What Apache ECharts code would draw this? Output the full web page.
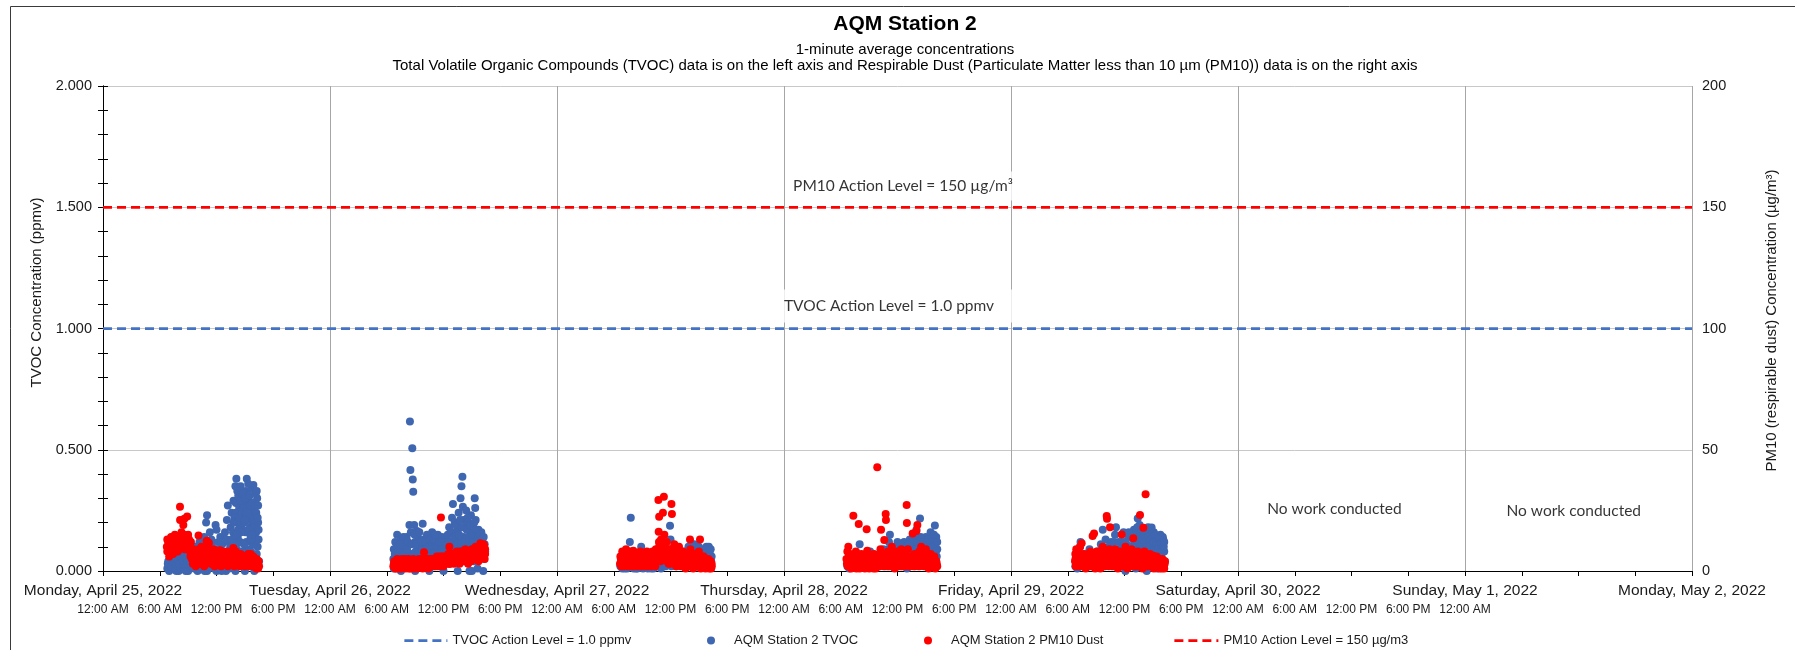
<!DOCTYPE html>
<html>
<head>
<meta charset="utf-8">
<title>AQM Station 2</title>
<script src="https://cdn.jsdelivr.net/npm/echarts@6.0.0/dist/echarts.min.js"></script>
<style>
  html, body { margin: 0; padding: 0; background: #fff; }
  #chart { width: 1795px; height: 650px; }
</style>
</head>
<body>
<div id="chart"></div>
<script>
// x axis = hours since Monday, April 25, 2022 12:00 AM
// each day array holds [hour of day, value]
const dayLabels = ['Monday, April 25, 2022', 'Tuesday, April 26, 2022', 'Wednesday, April 27, 2022',
  'Thursday, April 28, 2022', 'Friday, April 29, 2022', 'Saturday, April 30, 2022',
  'Sunday, May 1, 2022', 'Monday, May 2, 2022'];
const timeLabels = ['12:00 AM', '6:00 AM', '12:00 PM', '6:00 PM'];
const lastTimeLabel = 144; // time labels stop at Sunday 12:00 AM

const tvocActionLevel = 1.0;   // ppmv
const pm10ActionLevel = 150;   // ug/m3

// TVOC (ppmv), left axis
const tvocMon = [[6.8,0.01],[6.9,0.04],[7.1,0.02],[7.3,0.06],[7.4,0.01],[7.6,0.03],[7.8,0.07],[7.9,0.02],[8.1,0.05],[8.3,0.01],
  [8.4,0.08],[8.6,0.03],[8.8,0.06],[8.9,0.01],[9.1,0.04],[9.3,0.09],[9.4,0.02],[9.6,0.06],[9.8,0.1],[9.9,0.03],[10.1,0.07],
  [10.2,0.12],[10.4,0.02],[10.5,0.09],[10.7,0.14],[10.8,0.05],[10.9,0.2],[11.0,0.23],[11.1,0.1],[11.2,0.02],[11.3,0.16],
  [11.5,0.07],[11.6,0.12],[11.8,0.03],[11.9,0.19],[12.0,0.17],[12.1,0.09],[12.3,0.04],[12.4,0.14],[12.6,0.11],[12.7,0.02],
  [12.9,0.16],[13.0,0.07],[13.1,0.21],[13.2,0.27],[13.3,0.12],[13.4,0.03],[13.5,0.18],[13.6,0.24],[13.7,0.09],[13.8,0.29],
  [13.9,0.15],[14.0,0.35],[14.1,0.38],[14.15,0.2],[14.2,0.05],[14.3,0.31],[14.4,0.26],[14.5,0.12],[14.6,0.22],[14.7,0.3],
  [14.8,0.17],[14.9,0.02],[15.0,0.27],[15.1,0.33],[15.2,0.38],[15.25,0.21],[15.3,0.09],[15.4,0.29],[15.5,0.24],[15.6,0.14],
  [15.7,0.34],[15.8,0.19],[15.9,0.355],[15.95,0.05],[16.0,0.28],[16.1,0.23],[16.2,0.16],[16.3,0.3],[16.35,0.1],[16.4,0.2],
  [16.5,0.04],[14.35,0.12],[14.75,0.08],[15.05,0.16],[15.45,0.05],[15.85,0.11],[16.25,0.07],[13.85,0.06],[14.55,0.35],
  [15.35,0.36],[16.15,0.32],[13.05,0.01],[7.0,0.0],[8.0,0.0],[9.0,0.0],[10.0,0.0],[11.0,0.0],[12.0,0.0],[13.0,0.0],
  [14.0,0.0],[15.0,0.0],[16.0,0.0],
  [6.85,0.03],[7.05,0.05],[7.25,0.02],[7.45,0.04],[7.65,0.05],[7.85,0.01],[8.05,0.03],[8.25,0.06],[8.45,0.04],[8.65,0.01],
  [8.85,0.05],[9.05,0.07],[9.25,0.03],[9.45,0.05],[9.65,0.01],[9.85,0.06],[10.05,0.02],[10.25,0.05],[10.45,0.08],[10.65,0.03],
  [10.85,0.11],[11.05,0.06],[11.25,0.04],[11.45,0.13],[11.65,0.05],[11.85,0.09],[12.05,0.03],[12.25,0.12],[12.45,0.06],
  [12.65,0.08],[12.85,0.04],[13.05,0.13],[13.25,0.07],[13.45,0.1],[13.65,0.05],[13.75,0.16],[13.95,0.11],[14.05,0.24],
  [14.25,0.14],[14.45,0.19],[14.65,0.28],[14.85,0.23],[15.15,0.12],[15.25,0.3],[15.55,0.18],[15.75,0.22],[15.95,0.25],
  [16.05,0.14],[16.45,0.13],[14.15,0.09],[14.95,0.2],[15.65,0.08],[16.3,0.02],[13.35,0.01],[12.55,0.0],[11.75,0.01],
  [10.75,0.0],[9.75,0.01],[8.75,0.0],[7.75,0.0],
  [13.9,0.22],[14.05,0.28],[14.2,0.33],[14.3,0.17],[14.4,0.22],[14.5,0.29],[14.6,0.16],[14.7,0.25],[14.8,0.32],[14.9,0.26],
  [15.0,0.21],[15.05,0.3],[15.15,0.26],[15.3,0.24],[15.4,0.17],[15.5,0.31],[15.6,0.27],[15.7,0.13],[15.8,0.28],[15.9,0.2],
  [16.0,0.18],[16.1,0.27],[16.2,0.24],[16.25,0.33],[16.4,0.27],[16.45,0.17],[13.6,0.13],[13.8,0.2],[14.1,0.15],[14.9,0.11],
  [15.75,0.15],[16.35,0.22]];
const tvocTue = [[6.7,0.05],[6.75,0.09],[6.8,0.02],[6.9,0.12],[7.0,0.06],[7.1,0.15],[7.2,0.03],[7.3,0.1],[7.4,0.07],[7.5,0.13],
  [7.6,0.04],[7.7,0.09],[7.8,0.12],[7.9,0.02],[8.0,0.08],[8.1,0.14],[8.2,0.05],[8.3,0.11],[8.4,0.19],[8.45,0.617],[8.5,0.417],
  [8.55,0.16],[8.7,0.506],[8.75,0.377],[8.8,0.327],[8.6,0.07],[8.9,0.19],[9.0,0.12],[9.1,0.04],[9.2,0.165],[9.3,0.09],
  [9.4,0.13],[9.5,0.02],[9.6,0.1],[9.7,0.06],[9.8,0.195],[9.9,0.13],[10.0,0.08],[10.1,0.03],[10.2,0.11],[10.3,0.07],
  [10.4,0.14],[10.5,0.05],[10.6,0.1],[10.7,0.02],[10.8,0.16],[10.9,0.08],[11.0,0.12],[11.1,0.04],[11.2,0.11],[11.3,0.07],
  [11.4,0.15],[11.5,0.03],[11.6,0.09],[11.7,0.13],[11.8,0.06],[11.9,0.1],[12.0,0.128],[12.1,0.04],[12.2,0.08],[12.3,0.14],
  [12.4,0.06],[12.5,0.1],[12.6,0.18],[12.7,0.03],[12.8,0.12],[12.9,0.22],[13.0,0.276],[13.05,0.16],[13.1,0.08],[13.2,0.2],
  [13.3,0.13],[13.4,0.05],[13.5,0.17],[13.6,0.24],[13.7,0.1],[13.8,0.3],[13.9,0.35],[14.0,0.389],[14.05,0.265],[14.1,0.21],
  [14.15,0.14],[14.2,0.06],[14.3,0.18],[14.4,0.25],[14.5,0.12],[14.6,0.2],[14.7,0.08],[14.8,0.16],[14.9,0.23],[15.0,0.11],
  [15.1,0.19],[15.2,0.04],[15.3,0.3],[15.35,0.26],[15.4,0.21],[15.5,0.14],[15.6,0.09],[15.7,0.17],[15.8,0.12],[15.9,0.06],
  [16.0,0.16],[16.1,0.13],[16.2,0.1],[16.3,0.05],[16.4,0.08],[7.5,0.0],[9.0,0.0],[10.5,0.0],[12.0,0.0],[13.5,0.0],[15.0,0.0],
  [16.2,0.0],[14.75,0.0],[15.6,0.01],
  [6.75,0.01],[6.85,0.07],[6.95,0.03],[7.05,0.1],[7.15,0.05],[7.25,0.08],[7.35,0.01],[7.45,0.11],[7.55,0.06],[7.65,0.02],
  [7.75,0.14],[7.85,0.07],[7.95,0.1],[8.05,0.04],[8.15,0.09],[8.25,0.12],[8.35,0.02],[8.65,0.11],[8.85,0.05],[8.95,0.15],
  [9.05,0.08],[9.15,0.11],[9.25,0.03],[9.35,0.07],[9.45,0.16],[9.55,0.06],[9.65,0.12],[9.75,0.09],[9.85,0.02],[9.95,0.06],
  [10.05,0.12],[10.15,0.09],[10.25,0.15],[10.35,0.02],[10.45,0.1],[10.55,0.13],[10.65,0.06],[10.75,0.09],[10.85,0.04],
  [10.95,0.13],[11.05,0.08],[11.15,0.15],[11.25,0.05],[11.35,0.1],[11.45,0.07],[11.55,0.12],[11.65,0.05],[11.75,0.09],
  [11.85,0.14],[11.95,0.03],[12.05,0.09],[12.15,0.12],[12.25,0.05],[12.35,0.11],[12.45,0.15],[12.55,0.08],[12.65,0.12],
  [12.75,0.06],[12.85,0.16],[12.95,0.1],[13.15,0.14],[13.25,0.06],[13.35,0.19],[13.45,0.11],[13.55,0.08],[13.65,0.15],
  [13.75,0.21],[13.85,0.12],[13.95,0.18],[14.25,0.12],[14.35,0.08],[14.45,0.17],[14.55,0.22],[14.65,0.1],[14.75,0.14],
  [14.85,0.19],[14.95,0.07],[15.05,0.15],[15.15,0.12],[15.25,0.2],[15.45,0.17],[15.55,0.11],[15.65,0.14],[15.75,0.08],
  [15.85,0.15],[15.95,0.1],[16.05,0.12],[16.15,0.08],[16.25,0.14],[16.35,0.11]];
const tvocWed = [[6.7,0.02],[6.8,0.05],[6.9,0.01],[7.0,0.03],[7.1,0.06],[7.2,0.02],[7.3,0.04],[7.4,0.01],[7.5,0.07],[7.6,0.03],
  [7.7,0.12],[7.8,0.22],[7.9,0.02],[8.0,0.05],[8.1,0.01],[8.2,0.04],[8.3,0.02],[8.4,0.06],[8.5,0.01],[8.6,0.03],[8.7,0.05],
  [8.8,0.02],[8.9,0.1],[9.0,0.04],[9.1,0.01],[9.2,0.06],[9.3,0.02],[9.4,0.03],[9.5,0.05],[9.6,0.01],[9.7,0.04],[9.8,0.02],
  [9.9,0.06],[10.0,0.03],[10.2,0.01],[10.4,0.05],[10.6,0.02],[10.8,0.04],[11.0,0.01],[11.2,0.06],[11.4,0.03],[11.6,0.08],
  [11.8,0.05],[11.95,0.187],[12.0,0.13],[12.1,0.02],[12.3,0.07],[12.5,0.04],[12.7,0.09],[12.9,0.03],[13.1,0.06],[13.3,0.02],
  [13.5,0.08],[13.7,0.05],[13.9,0.1],[14.1,0.03],[14.3,0.07],[14.5,0.11],[14.7,0.04],[14.9,0.08],[15.1,0.02],[15.3,0.06],
  [15.5,0.09],[15.7,0.04],[15.8,0.1],[15.9,0.07],[16.0,0.03],[16.1,0.08],[16.2,0.05],[16.3,0.02],[16.35,0.06],
  [6.75,0.03],[6.95,0.04],[7.15,0.01],[7.35,0.05],[7.55,0.02],[7.75,0.06],[7.95,0.03],[8.15,0.05],[8.35,0.01],[8.55,0.04],
  [8.75,0.06],[8.95,0.02],[9.15,0.04],[9.35,0.06],[9.55,0.02],[9.75,0.05],[9.95,0.01],[10.1,0.04],[10.3,0.06],[10.5,0.03],
  [10.7,0.05],[10.9,0.02],[11.1,0.04],[11.3,0.07],[11.5,0.02],[11.7,0.05],[11.9,0.08],[12.2,0.04],[12.4,0.06],[12.6,0.02],
  [12.8,0.06],[13.0,0.04],[13.2,0.07],[13.4,0.05],[13.6,0.03],[13.8,0.07],[14.0,0.05],[14.2,0.09],[14.4,0.04],[14.6,0.08],
  [14.8,0.06],[15.0,0.1],[15.2,0.05],[15.4,0.08],[15.6,0.06],[15.75,0.09],[15.95,0.05],[16.05,0.1],[16.15,0.07],[16.25,0.09],
  [16.3,0.04]];
const tvocThu = [[6.7,0.02],[6.8,0.05],[6.9,0.01],[7.0,0.03],[7.2,0.06],[7.4,0.02],[7.6,0.04],[7.8,0.07],[8.0,0.11],[8.1,0.03],
  [8.3,0.05],[8.5,0.02],[8.7,0.06],[8.9,0.03],[9.1,0.08],[9.3,0.04],[9.5,0.02],[9.7,0.06],[9.9,0.03],[10.1,0.07],[10.3,0.04],
  [10.5,0.09],[10.7,0.02],[10.9,0.06],[11.1,0.12],[11.2,0.15],[11.3,0.05],[11.5,0.08],[11.7,0.03],[11.9,0.07],[12.0,0.12],
  [12.1,0.1],[12.3,0.04],[12.5,0.08],[12.7,0.12],[12.9,0.05],[13.1,0.09],[13.3,0.13],[13.5,0.06],[13.7,0.1],[13.9,0.14],
  [14.0,0.17],[14.2,0.08],[14.38,0.217],[14.5,0.12],[14.7,0.05],[14.8,0.1],[15.0,0.14],[15.2,0.07],[15.4,0.12],[15.5,0.16],
  [15.6,0.09],[15.8,0.135],[15.95,0.188],[16.0,0.11],[16.1,0.14],[16.15,0.06],[16.2,0.09],[15.3,0.02],[14.6,0.03],[13.0,0.01],
  [6.75,0.04],[6.95,0.02],[7.1,0.05],[7.3,0.03],[7.5,0.05],[7.7,0.02],[7.9,0.04],[8.2,0.06],[8.4,0.03],[8.6,0.05],[8.8,0.02],
  [9.0,0.06],[9.2,0.03],[9.4,0.07],[9.6,0.04],[9.8,0.06],[10.0,0.03],[10.2,0.06],[10.4,0.05],[10.6,0.07],[10.8,0.04],
  [11.0,0.09],[11.4,0.1],[11.6,0.06],[11.8,0.09],[12.2,0.07],[12.4,0.11],[12.6,0.06],[12.8,0.1],[13.0,0.07],[13.2,0.11],
  [13.4,0.08],[13.6,0.12],[13.8,0.07],[14.1,0.12],[14.3,0.1],[14.45,0.14],[14.6,0.09],[14.75,0.12],[14.9,0.08],[15.1,0.11],
  [15.25,0.13],[15.35,0.09],[15.45,0.06],[15.65,0.12],[15.75,0.1],[15.85,0.15],[16.05,0.08],[16.2,0.12]];
const tvocFri = [[6.8,0.02],[6.9,0.05],[7.0,0.01],[7.1,0.08],[7.2,0.03],[7.3,0.1],[7.35,0.12],[7.5,0.04],[7.7,0.07],[7.9,0.02],
  [8.1,0.05],[8.3,0.09],[8.5,0.03],[8.7,0.06],[8.9,0.02],[9.1,0.08],[9.3,0.04],[9.5,0.11],[9.7,0.17],[9.8,0.06],[10.0,0.13],
  [10.2,0.03],[10.4,0.08],[10.6,0.12],[10.8,0.05],[11.0,0.15],[11.1,0.18],[11.3,0.09],[11.5,0.04],[11.7,0.12],[11.9,0.16],
  [12.0,0.07],[12.2,0.11],[12.4,0.14],[12.5,0.03],[12.7,0.09],[12.9,0.13],[13.0,0.17],[13.1,0.06],[13.3,0.15],[13.4,0.217],
  [13.5,0.11],[13.6,0.19],[13.7,0.08],[13.8,0.14],[13.9,0.17],[14.0,0.04],[14.1,0.12],[14.2,0.16],[14.3,0.09],[14.4,0.13],
  [14.5,0.18],[14.6,0.06],[14.7,0.15],[14.8,0.1],[14.87,0.179],[14.95,0.13],[15.0,0.05],[15.1,0.16],[15.2,0.11],[15.3,0.14],
  [15.4,0.08],[15.5,0.12],[15.6,0.125],[15.7,0.1],[15.8,0.15],[15.9,0.06],[16.0,0.11],[16.1,0.13],[16.2,0.08],[16.25,0.04],
  [12.1,0.0],[13.2,0.01],[14.35,0.0],[15.45,0.01],
  [6.85,0.04],[6.95,0.07],[7.05,0.03],[7.15,0.05],[7.25,0.06],[7.45,0.02],[7.6,0.05],[7.8,0.04],[8.0,0.06],[8.2,0.03],
  [8.4,0.05],[8.6,0.07],[8.8,0.04],[9.0,0.06],[9.2,0.05],[9.4,0.07],[9.6,0.09],[9.9,0.08],[10.1,0.06],[10.3,0.1],[10.5,0.07],
  [10.7,0.09],[10.9,0.12],[11.2,0.07],[11.4,0.12],[11.6,0.08],[11.8,0.1],[12.05,0.12],[12.3,0.09],[12.45,0.16],[12.6,0.1],
  [12.8,0.14],[12.95,0.08],[13.15,0.12],[13.25,0.09],[13.35,0.18],[13.55,0.14],[13.65,0.1],[13.75,0.16],[13.85,0.11],
  [13.95,0.13],[14.05,0.15],[14.15,0.09],[14.25,0.12],[14.45,0.1],[14.55,0.14],[14.65,0.11],[14.75,0.13],[14.85,0.07],
  [15.05,0.12],[15.15,0.09],[15.25,0.15],[15.35,0.11],[15.55,0.09],[15.65,0.14],[15.75,0.07],[15.85,0.12],[15.95,0.09],
  [16.05,0.14],[16.15,0.1],[16.2,0.12]];

// PM10 dust (ug/m3), right axis
const pm10Mon = [[6.75,10],[6.8,8],[6.9,12],[7.0,6],[7.08,11.4],[7.2,14],[7.3,9],[7.4,7],[7.5,12],[7.6,15],[7.7,10],[7.8,13],
  [7.9,8],[8.0,14],[8.14,26.5],[8.15,21],[8.2,11],[8.3,16],[8.49,19],[8.5,12],[8.6,21.5],[8.7,14],[8.8,10],[8.9,22.5],[9.0,15],
  [9.1,13],[9.2,8],[9.3,12],[9.4,5],[9.5,3],[9.6,9],[9.7,6],[9.8,2],[9.9,8],[10.0,4],[10.1,14.6],[10.2,7],[10.3,3],[10.4,10],
  [10.5,5],[10.6,8],[10.7,2],[10.96,12.5],[10.9,6],[11.0,10],[11.1,4],[11.2,11.5],[11.3,7],[11.4,3],[11.5,8],[11.6,5],[11.7,9],
  [11.8,2],[11.9,6],[12.0,4],[12.1,8],[12.2,3],[12.37,8.6],[12.4,5],[12.5,2],[12.6,6],[12.7,4],[12.8,7],[12.9,3],[13.0,5],
  [13.1,8],[13.2,2],[13.3,6],[13.4,4],[13.5,7],[13.6,3],[13.78,9.5],[13.8,5],[13.9,2],[14.0,6],[14.1,4],[14.2,7],[14.3,3],
  [14.4,5],[14.5,2],[14.6,6],[14.7,4],[14.8,3],[14.9,5],[15.0,2],[15.1,4],[15.2,6],[15.3,3],[15.4,5],[15.5,2],[15.6,7],[15.7,4],
  [15.8,3],[15.9,6],[16.0,2],[16.1,4],[16.2,1],[16.3,3],[16.4,1],[16.5,2],
  [6.8,13],[6.95,9],[7.15,12],[7.35,14],[7.45,10],[7.65,8],[7.75,13],[7.95,11],[8.05,9],[8.25,13],[8.35,10],[8.55,15],[8.65,9],
  [8.75,12],[8.95,11],[9.05,9],[9.15,11],[9.25,6],[9.35,9],[9.45,7],[9.55,6],[9.65,4],[9.75,8],[9.85,5],[9.95,3],[10.05,6],
  [10.15,9],[10.25,5],[10.35,8],[10.45,3],[10.55,7],[10.65,5],[10.75,9],[10.85,4],[11.05,7],[11.15,5],[11.25,9],[11.35,5],
  [11.45,6],[11.55,3],[11.65,7],[11.75,5],[11.85,8],[11.95,4],[12.05,6],[12.15,5],[12.25,7],[12.35,4],[12.45,3],[12.55,5],
  [12.65,8],[12.75,3],[12.85,5],[12.95,6],[13.05,3],[13.15,5],[13.25,7],[13.35,4],[13.45,6],[13.55,5],[13.65,7],[13.75,3],
  [13.85,6],[13.95,4],[14.05,8],[14.15,5],[14.25,3],[14.35,6],[14.45,4],[14.55,7],[14.65,3],[14.75,6],[14.85,5],[14.95,3],
  [15.05,6],[15.15,3],[15.25,4],[15.35,7],[15.45,3],[15.55,5],[15.65,4],[15.75,6],[15.85,2],[15.95,4],[16.05,5],[16.15,3],
  [16.25,5],[16.35,2],[16.45,4]];
const pm10Tue = [[6.7,2],[6.8,4],[6.9,1],[7.0,3],[7.1,5],[7.2,2],[7.3,4],[7.4,1],[7.5,3],[7.6,5],[7.7,2],[7.8,4],[7.9,3],[8.0,1],
  [8.1,4],[8.2,2],[8.3,5],[8.4,3],[8.5,1],[8.6,4],[8.7,2],[8.8,5],[8.9,3],[9.0,2],[9.1,4],[9.2,1],[9.3,3],[9.4,5],[9.5,2],[9.6,4],
  [9.7,3],[9.8,1],[9.94,7.7],[10.0,4],[10.1,2],[10.2,5],[10.3,3],[10.4,1],[10.5,4],[10.6,2],[10.7,5],[10.8,3],[10.9,4],[11.0,2],
  [11.1,5],[11.2,3],[11.3,6],[11.4,2],[11.5,4],[11.6,5],[11.73,22.1],[11.75,3],[11.8,6],[11.9,4],[12.0,2],[12.1,5],[12.2,3],
  [12.3,6],[12.4,4],[12.5,7],[12.62,10],[12.65,3],[12.7,5],[12.8,6],[12.9,4],[13.0,7],[13.1,3],[13.2,6],[13.3,5],[13.4,8],
  [13.5,4],[13.6,6],[13.7,3],[13.8,7],[13.9,5],[14.0,8],[14.1,4],[14.2,6],[14.3,9],[14.4,5],[14.5,7],[14.6,3],[14.7,8],[14.8,6],
  [14.9,4],[15.0,9],[15.1,7],[15.2,5],[15.3,8],[15.4,10],[15.5,6],[15.6,8],[15.7,4],[15.8,9],[15.9,11.4],[15.95,7],[16.0,9.4],
  [16.1,6],[16.2,8],[16.3,10],[16.35,5],[16.4,7],
  [6.75,3],[6.85,2],[6.95,4],[7.05,1],[7.15,3],[7.25,4],[7.35,2],[7.45,3],[7.55,1],[7.65,4],[7.75,3],[7.85,2],[7.95,5],[8.05,3],
  [8.15,2],[8.25,4],[8.35,1],[8.45,4],[8.55,3],[8.65,2],[8.75,4],[8.85,1],[8.95,4],[9.05,3],[9.15,2],[9.25,4],[9.35,2],[9.45,3],
  [9.55,4],[9.65,2],[9.75,5],[9.85,3],[9.95,2],[10.05,5],[10.15,3],[10.25,4],[10.35,2],[10.45,5],[10.55,3],[10.65,4],[10.75,2],
  [10.85,5],[10.95,3],[11.05,4],[11.15,2],[11.25,5],[11.35,4],[11.45,3],[11.55,6],[11.65,2],[11.85,4],[11.95,6],[12.05,4],
  [12.15,3],[12.25,5],[12.35,4],[12.45,6],[12.55,3],[12.75,7],[12.85,4],[12.95,6],[13.05,5],[13.15,7],[13.25,4],[13.35,6],
  [13.45,5],[13.55,7],[13.65,5],[13.75,8],[13.85,4],[13.95,7],[14.05,6],[14.15,8],[14.25,5],[14.35,7],[14.45,6],[14.55,8],
  [14.65,6],[14.75,5],[14.85,8],[14.95,7],[15.05,6],[15.15,9],[15.25,7],[15.35,6],[15.45,9],[15.55,7],[15.65,10],[15.75,8],
  [15.85,6],[16.05,10],[16.15,8],[16.25,11],[16.3,7],[16.4,9]];
const pm10Wed = [[6.66,3],[6.7,6],[6.8,2],[6.9,8],[7.0,4],[7.1,7],[7.2,3],[7.3,9],[7.4,5],[7.5,2],[7.6,7],[7.7,4],[7.8,6],[7.9,3],
  [8.07,8.4],[8.1,5],[8.2,2],[8.3,7],[8.4,4],[8.5,6],[8.6,3],[8.7,5],[8.8,8],[8.9,2],[9.0,5],[9.1,7.5],[9.2,3],[9.3,6],[9.4,4],
  [9.5,8],[9.6,2],[9.7,5],[9.8,7],[9.9,3],[10.0,5],[10.1,8],[10.2,4],[10.3,7],[10.4,2],[10.5,6],[10.6,9],[10.72,29.3],
  [10.75,16.2],[10.8,22.4],[10.85,11],[10.9,6],[11.0,13],[11.1,8],[11.2,24],[11.3,30.6],[11.35,14.9],[11.4,10],[11.5,5],
  [11.6,12],[11.7,7],[11.8,3],[11.9,9],[12.0,5],[12.1,27.6],[12.15,23.5],[12.2,8],[12.3,4],[12.4,11],[12.5,6],[12.6,2],
  [12.7,8],[12.8,4],[12.9,10],[13.0,6],[13.1,2],[13.2,5],[13.3,8],[13.4,3],[13.5,6],[13.6,1],[13.7,4],[13.8,7],[13.9,2],
  [14.0,5],[14.06,13],[14.1,9],[14.2,3],[14.3,6],[14.4,1],[14.5,4],[14.6,7],[14.7,2],[14.8,5],[14.9,3],[15.0,8],[15.12,13],
  [15.15,6],[15.2,1],[15.3,4],[15.4,2],[15.5,6],[15.6,3],[15.7,1],[15.8,4],[15.9,2],[16.0,5],[16.1,1],[16.2,3],[16.3,1],[16.36,2],
  [6.75,5],[6.85,3],[6.95,6],[7.05,2],[7.15,5],[7.25,7],[7.35,4],[7.45,6],[7.55,4],[7.65,3],[7.75,8],[7.85,5],[7.95,2],[8.05,6],
  [8.15,4],[8.25,7],[8.35,3],[8.45,5],[8.55,2],[8.65,6],[8.75,4],[8.85,5],[8.95,7],[9.05,3],[9.15,5],[9.25,2],[9.35,7],[9.45,4],
  [9.55,6],[9.65,3],[9.75,7],[9.85,5],[9.95,2],[10.05,6],[10.15,4],[10.25,7],[10.35,5],[10.45,9],[10.55,4],[10.65,7],[10.78,12],
  [10.9,9],[10.95,4],[11.05,10],[11.15,6],[11.25,12],[11.45,7],[11.55,9],[11.65,4],[11.75,8],[11.85,6],[11.95,3],[12.05,9],
  [12.25,6],[12.35,8],[12.45,3],[12.55,5],[12.65,7],[12.75,3],[12.85,6],[12.95,4],[13.05,8],[13.15,4],[13.25,3],[13.35,6],
  [13.45,5],[13.55,3],[13.65,6],[13.75,2],[13.85,5],[13.95,4],[14.05,7],[14.15,5],[14.25,2],[14.35,4],[14.45,6],[14.55,3],
  [14.65,5],[14.75,4],[14.85,2],[14.95,6],[15.05,4],[15.25,3],[15.35,6],[15.45,4],[15.55,2],[15.65,5],[15.75,3],[15.85,2],
  [15.95,4],[16.05,3],[16.15,2],[16.25,4],[16.35,3]];
const pm10Thu = [[6.6,5],[6.7,8],[6.75,2],[6.8,10],[6.85,6],[6.9,3],[7.0,7],[7.1,1],[7.2,4],[7.33,22.8],[7.4,6],[7.5,2],[7.6,8],
  [7.7,3],[7.9,19.4],[7.95,5],[8.0,1],[8.1,4],[8.2,7],[8.3,2],[8.4,5],[8.5,3],[8.6,6],[8.74,17.2],[8.8,8.4],[8.85,2],[8.9,4],
  [9.0,1],[9.1,6],[9.2,3],[9.3,5],[9.4,2],[9.5,7],[9.6,4],[9.7,1],[9.8,5],[9.86,42.8],[9.9,3],[10.0,6],[10.1,2],[10.2,9],
  [10.26,17],[10.3,4],[10.4,7],[10.6,12.8],[10.75,23.5],[10.78,21],[10.8,5],[10.9,3],[11.0,8],[11.1,2],[11.2,6],[11.3,4],
  [11.4,10],[11.5,3],[11.6,7],[11.7,1],[11.8,5],[11.9,3],[12.0,8],[12.1,2],[12.2,6],[12.3,4],[12.4,9],[12.5,2],[12.6,5],
  [12.7,3],[12.8,7],[12.97,27.2],[12.99,19.8],[13.0,4],[13.1,9],[13.2,2],[13.3,6],[13.4,3],[13.6,15.5],[13.65,5],[13.7,2],
  [13.8,7],[13.9,4],[14.0,16.5],[14.1,19],[14.15,6],[14.2,2],[14.3,8],[14.5,10],[14.6,4],[14.7,7],[14.8,2],[14.9,5],[15.0,9],
  [15.1,3],[15.2,6],[15.3,1],[15.4,4],[15.5,7],[15.6,2],[15.7,5],[15.8,3],[15.9,6],[16.0,1],[16.1,4],[16.2,2],
  [6.65,3],[6.95,5],[7.05,4],[7.15,6],[7.25,2],[7.45,4],[7.55,5],[7.65,1],[7.75,6],[7.85,3],[8.05,4],[8.15,2],[8.25,5],[8.35,3],
  [8.45,6],[8.55,1],[8.65,4],[8.95,5],[9.05,3],[9.15,2],[9.25,6],[9.35,4],[9.45,1],[9.55,5],[9.65,3],[9.75,6],[9.95,4],[10.05,2],
  [10.15,5],[10.35,3],[10.45,6],[10.55,2],[10.65,5],[10.85,6],[10.95,2],[11.05,5],[11.15,3],[11.25,6],[11.35,2],[11.45,5],
  [11.55,4],[11.65,2],[11.75,6],[11.85,4],[11.95,2],[12.05,5],[12.15,3],[12.25,4],[12.35,2],[12.45,6],[12.55,3],[12.65,4],
  [12.75,2],[12.85,5],[13.05,3],[13.15,5],[13.25,4],[13.35,2],[13.45,5],[13.55,3],[13.75,4],[13.85,2],[13.95,5],[14.05,3],
  [14.25,4],[14.35,2],[14.45,5],[14.55,3],[14.65,6],[14.75,3],[14.85,4],[14.95,2],[15.05,5],[15.15,3],[15.25,4],[15.35,2],
  [15.45,5],[15.55,3],[15.65,4],[15.75,2],[15.85,4],[15.95,3],[16.05,2],[16.15,3]];
const pm10Fri = [[6.77,4],[6.8,7],[6.85,2],[6.9,9],[7.0,5],[7.1,8],[7.2,3],[7.3,10],[7.47,11.4],[7.5,6],[7.6,2],[7.7,7],[7.8,4],
  [7.9,1],[8.0,5],[8.1,3],[8.2,7],[8.3,2],[8.4,8],[8.5,4],[8.63,14.4],[8.7,3],[8.78,15.5],[8.85,6],[8.9,1],[9.0,5],[9.1,8],
  [9.2,3],[9.3,6],[9.4,2],[9.5,7],[9.6,4],[9.7,10],[9.8,2],[9.9,5],[10.0,8],[10.12,22.7],[10.15,21.5],[10.2,6],[10.3,3],
  [10.4,9],[10.47,18],[10.6,4],[10.7,7],[10.8,2],[10.9,5],[11.0,9],[11.1,3],[11.2,6],[11.3,1],[11.4,4],[11.5,8],[11.6,2],
  [11.7,15.1],[11.8,6],[11.9,3],[12.0,7],[12.1,10],[12.2,4],[12.3,1],[12.4,5],[12.5,8],[12.6,3],[12.75,9],[12.8,2],[12.93,13.5],
  [13.0,4],[13.1,7],[13.2,2],[13.3,5],[13.4,8],[13.5,3],[13.64,23.1],[13.7,6],[13.8,4],[13.9,1],[13.99,17.8],[14.1,8],
  [14.23,31.6],[14.3,3],[14.4,6],[14.5,2],[14.6,5],[14.7,7],[14.8,3],[14.9,4],[15.05,6.3],[15.1,1],[15.2,4],[15.3,2],[15.4,6],
  [15.5,3],[15.6,5],[15.7,1],[15.8,4],[15.9,2],[16.0,5],[16.1,3],[16.2,1],[16.28,4],
  [6.82,5],[6.95,3],[7.05,6],[7.15,2],[7.25,5],[7.4,4],[7.55,3],[7.65,5],[7.75,2],[7.85,6],[7.95,3],[8.05,2],[8.15,6],[8.25,4],
  [8.35,5],[8.45,2],[8.55,6],[8.75,4],[8.95,3],[9.05,2],[9.15,5],[9.25,3],[9.35,4],[9.45,1],[9.55,5],[9.65,3],[9.75,6],[9.85,4],
  [9.95,2],[10.05,5],[10.25,4],[10.35,2],[10.55,5],[10.65,2],[10.75,4],[10.85,6],[10.95,3],[11.05,5],[11.15,2],[11.25,4],
  [11.35,6],[11.45,3],[11.55,5],[11.65,4],[11.75,3],[11.85,5],[11.95,2],[12.05,4],[12.15,6],[12.25,3],[12.35,5],[12.45,2],
  [12.55,4],[12.65,6],[12.7,3],[12.85,5],[13.05,2],[13.15,4],[13.25,5],[13.35,3],[13.45,5],[13.55,2],[13.75,5],[13.85,3],
  [13.95,4],[14.05,3],[14.15,5],[14.35,2],[14.45,4],[14.55,3],[14.65,4],[14.75,2],[14.85,5],[14.95,2],[15.15,3],[15.25,5],
  [15.35,2],[15.45,4],[15.55,3],[15.65,2],[15.75,5],[15.85,3],[15.95,1],[16.05,3],[16.15,2],[16.25,3]];

const tvocDays = [tvocMon, tvocTue, tvocWed, tvocThu, tvocFri];
const pm10Days = [pm10Mon, pm10Tue, pm10Wed, pm10Thu, pm10Fri];

// put each day's points on the continuous hour axis
function onWeekAxis(days) {
  const pts = [];
  days.forEach((day, i) => day.forEach(p => pts.push([i * 24 + p[0], p[1]])));
  return pts;
}

const FONT = 'Liberation Sans, Arial, sans-serif';
const NOTE_FONT = 'Lato, Noto Sans, sans-serif';
const BLUE = '#3f66b0';
const LINE_BLUE = '#4472c4';
const RED = '#ff0000';
const xMax = (dayLabels.length - 1) * 24;

const chart = echarts.init(document.getElementById('chart'), null, { renderer: 'canvas' });

function legendAt(name, left, w, h, isLine) {
  return {
    data: [name], left: left, top: 634, itemWidth: w, itemHeight: h, itemGap: 0,
    selectedMode: false, padding: 0,
    itemStyle: isLine ? { opacity: 0 } : {},
    lineStyle: isLine ? { width: 2.75 } : {},
    textStyle: { fontFamily: FONT, fontSize: 13, color: '#1a1a1a' }
  };
}

const option = {
  animation: false,
  backgroundColor: '#fff',
  title: [
    { text: 'AQM Station 2', left: 905, top: 14, textAlign: 'center', padding: 0,
      textStyle: { fontFamily: FONT, fontSize: 21, fontWeight: 'bold', color: '#000' } },
    { text: '1-minute average concentrations', left: 905, top: 42, textAlign: 'center', padding: 0,
      textStyle: { fontFamily: FONT, fontSize: 15, fontWeight: 'normal', color: '#000' } },
    { text: 'Total Volatile Organic Compounds (TVOC) data is on the left axis and Respirable Dust (Particulate Matter less than 10 µm (PM10)) data is on the right axis',
      left: 905, top: 58, textAlign: 'center', padding: 0,
      textStyle: { fontFamily: FONT, fontSize: 15, fontWeight: 'normal', color: '#000' } }
  ],
  legend: [
    legendAt('TVOC Action Level = 1.0 ppmv', 403, 43, 14, true),
    legendAt('AQM Station 2 TVOC', 707, 36, 8, false),
    legendAt('AQM Station 2 PM10 Dust', 924, 36, 8, false),
    legendAt('PM10 Action Level = 150 µg/m3', 1173, 44, 14, true)
  ],
  graphic: [
    { type: 'rect', silent: true, shape: { x: 10.5, y: 6.5, width: 1800, height: 700 },
      style: { fill: 'none', stroke: '#3a3a3a', lineWidth: 1 } }
  ],
  grid: { left: 103, right: 103, top: 86, bottom: 79, containLabel: false, outerBoundsMode: 'none' },
  xAxis: [
    {
      type: 'value', min: 0, max: xMax, interval: 24, position: 'bottom',
      axisLine: { show: true, onZero: false, lineStyle: { color: '#000', width: 1 } },
      axisTick: { show: true, inside: false, length: 5, lineStyle: { color: '#000' } },
      minorTick: { show: true, splitNumber: 4, length: 5, lineStyle: { color: '#000' } },
      splitLine: { show: true, lineStyle: { color: '#a6a6a6', width: 1 } },
      minorSplitLine: { show: false },
      axisLabel: { margin: 12, fontFamily: FONT, fontSize: 15.5, color: '#1a1a1a',
        formatter: v => dayLabels[Math.round(v / 24)] || '' }
    },
    {
      type: 'value', min: 0, max: xMax, interval: 6, position: 'bottom',
      axisLine: { show: false, onZero: false }, axisTick: { show: false }, splitLine: { show: false },
      axisLabel: { margin: 33, fontFamily: FONT, fontSize: 12, color: '#1a1a1a',
        formatter: v => v <= lastTimeLabel ? timeLabels[Math.round(v / 6) % 4] : '' }
    }
  ],
  yAxis: [
    {
      type: 'value', min: 0, max: 2, interval: 0.5, position: 'left',
      name: 'TVOC Concentration (ppmv)', nameLocation: 'middle', nameGap: 57, nameRotate: 90,
      nameTextStyle: { fontFamily: FONT, fontSize: 15, color: '#1a1a1a', padding: [0, 0, 0, 72] },
      axisLine: { show: true, lineStyle: { color: '#000', width: 1 } },
      axisTick: { show: true, inside: false, length: 5, lineStyle: { color: '#000' } },
      minorTick: { show: true, splitNumber: 5, length: 5, lineStyle: { color: '#000' } },
      splitLine: { show: true, lineStyle: { color: '#c8c8c8', width: 1 } },
      axisLabel: { margin: 11, fontFamily: FONT, fontSize: 14.5, color: '#1a1a1a', formatter: v => v.toFixed(3) }
    },
    {
      type: 'value', min: 0, max: 200, interval: 50, position: 'right',
      name: 'PM10 (respirable dust) Concentration (µg/m³)', nameLocation: 'middle', nameGap: 72, nameRotate: 90,
      nameTextStyle: { fontFamily: FONT, fontSize: 15, color: '#1a1a1a', padding: [0, 0, 0, 16] },
      axisLine: { show: true, lineStyle: { color: '#000', width: 1 } },
      axisTick: { show: true, inside: false, length: 5, lineStyle: { color: '#000' } },
      minorTick: { show: true, splitNumber: 5, length: 5, lineStyle: { color: '#000' } },
      splitLine: { show: false },
      axisLabel: { margin: 10, fontFamily: FONT, fontSize: 14.5, color: '#1a1a1a' }
    }
  ],
  series: [
    {
      name: 'TVOC Action Level = 1.0 ppmv', type: 'line', xAxisIndex: 0, yAxisIndex: 0,
      symbol: 'none', silent: true, z: 3,
      lineStyle: { color: LINE_BLUE, width: 2.75, type: [9, 5] },
      itemStyle: { color: LINE_BLUE },
      data: [[0, tvocActionLevel], [xMax, tvocActionLevel]]
    },
    {
      name: 'AQM Station 2 TVOC', type: 'scatter', xAxisIndex: 0, yAxisIndex: 0,
      symbol: 'circle', symbolSize: 8, z: 4,
      itemStyle: { color: BLUE, opacity: 1 },
      data: onWeekAxis(tvocDays)
    },
    {
      name: 'AQM Station 2 PM10 Dust', type: 'scatter', xAxisIndex: 0, yAxisIndex: 1,
      symbol: 'circle', symbolSize: 8, z: 5,
      itemStyle: { color: RED, opacity: 1 },
      data: onWeekAxis(pm10Days)
    },
    {
      name: 'PM10 Action Level = 150 µg/m3', type: 'line', xAxisIndex: 0, yAxisIndex: 1,
      symbol: 'none', silent: true, z: 3,
      lineStyle: { color: RED, width: 2.75, type: [9, 5] },
      itemStyle: { color: RED },
      data: [[0, pm10ActionLevel], [xMax, pm10ActionLevel]]
    },
    {
      // text boxes written on the plot
      name: 'notes', type: 'scatter', xAxisIndex: 0, yAxisIndex: 0,
      symbolSize: 0, silent: true, z: 6,
      itemStyle: { color: 'rgba(0,0,0,0)' },
      label: { show: true, position: 'inside', fontFamily: NOTE_FONT, fontSize: 15.5, color: '#000', lineHeight: 17 },
      data: [
        { value: [84.58, 1.588], label: { formatter: 'PM10 Action Level = 150 µg/m³', backgroundColor: '#fff', padding: [6, 7, 6, 7] } },
        { value: [84.0, 1.093], label: { formatter: 'TVOC Action Level = 1.0 ppmv', backgroundColor: '#fff', padding: [8, 24, 8, 7] } },
        { value: [130.2, 0.256], label: { formatter: 'No work conducted' } },
        { value: [155.5, 0.247], label: { formatter: 'No work conducted' } }
      ]
    }
  ]
};

chart.setOption(option);
</script>
</body>
</html>
